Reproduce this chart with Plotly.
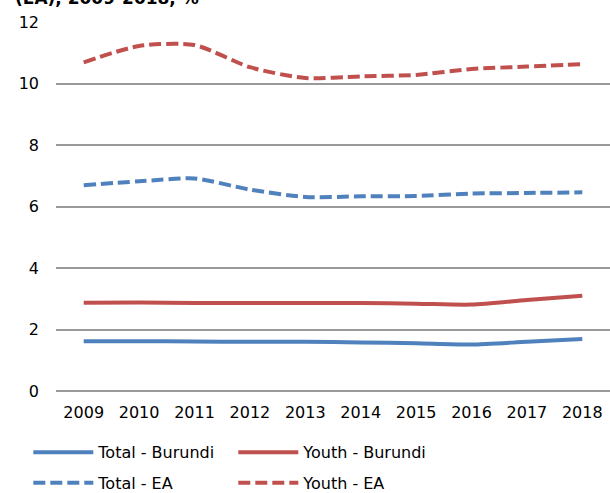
import plotly.graph_objects as go

years = ["2009", "2010", "2011", "2012", "2013", "2014", "2015", "2016", "2017", "2018"]
total_burundi = [1.62, 1.62, 1.61, 1.60, 1.60, 1.58, 1.55, 1.51, 1.60, 1.69]
youth_burundi = [2.87, 2.88, 2.86, 2.86, 2.86, 2.86, 2.84, 2.81, 2.96, 3.10]
total_ea = [6.69, 6.82, 6.91, 6.55, 6.31, 6.33, 6.34, 6.42, 6.44, 6.46]
youth_ea = [10.69, 11.22, 11.25, 10.53, 10.18, 10.23, 10.28, 10.47, 10.55, 10.63]

BLUE = "#4F81BD"
RED = "#C0504D"
FONT = "DejaVu Sans"

# name, values, colour, dash, legend row
series = [
    ("Total - Burundi", total_burundi, BLUE, "solid", "legend"),
    ("Youth - Burundi", youth_burundi, RED, "solid", "legend"),
    ("Total - EA", total_ea, BLUE, "12px,5px", "legend2"),
    ("Youth - EA", youth_ea, RED, "12px,5px", "legend2"),
]

fig = go.Figure()
for name, vals, color, dash, leg in series:
    fig.add_trace(go.Scatter(
        x=years, y=vals, name=name, mode="lines", legend=leg,
        line=dict(color=color, width=4, dash=dash, shape="spline", smoothing=0.7),
    ))

legend_style = dict(
    orientation="h", x=-0.05, xanchor="left", yanchor="top",
    entrywidth=130, entrywidthmode="pixels",
    font=dict(family=FONT, size=16, color="#000000"),
    traceorder="normal", itemwidth=60, bgcolor="rgba(0,0,0,0)",
)

fig.update_layout(
    width=610, height=493,
    margin=dict(l=56, r=0, t=22, b=102, autoexpand=False),
    paper_bgcolor="white", plot_bgcolor="white",
    font=dict(family=FONT, size=16, color="#000000"),
    showlegend=True,
    legend=dict(y=-0.12, **legend_style),
    legend2=dict(y=-0.203, **legend_style),
    annotations=[dict(
        text="<b>(EA), 2009-2018, %</b>", xref="paper", yref="paper",
        x=-0.078, xanchor="left", y=1.0, yanchor="bottom", yshift=12,
        showarrow=False, font=dict(family=FONT, size=17, color="#000000"),
    )],
)
fig.update_xaxes(
    type="category", range=[-0.5, 9.5], showgrid=False, showline=False,
    ticks="", tickfont=dict(size=16), ticklabelstandoff=10,
)
fig.update_yaxes(
    range=[0, 12], dtick=2, showgrid=True, gridcolor="#999999", gridwidth=1.5,
    zeroline=True, zerolinecolor="#999999", zerolinewidth=1.5,
    showline=False, ticks="", tickfont=dict(size=16), ticklabelstandoff=16,
)

fig.write_html("out.html")
